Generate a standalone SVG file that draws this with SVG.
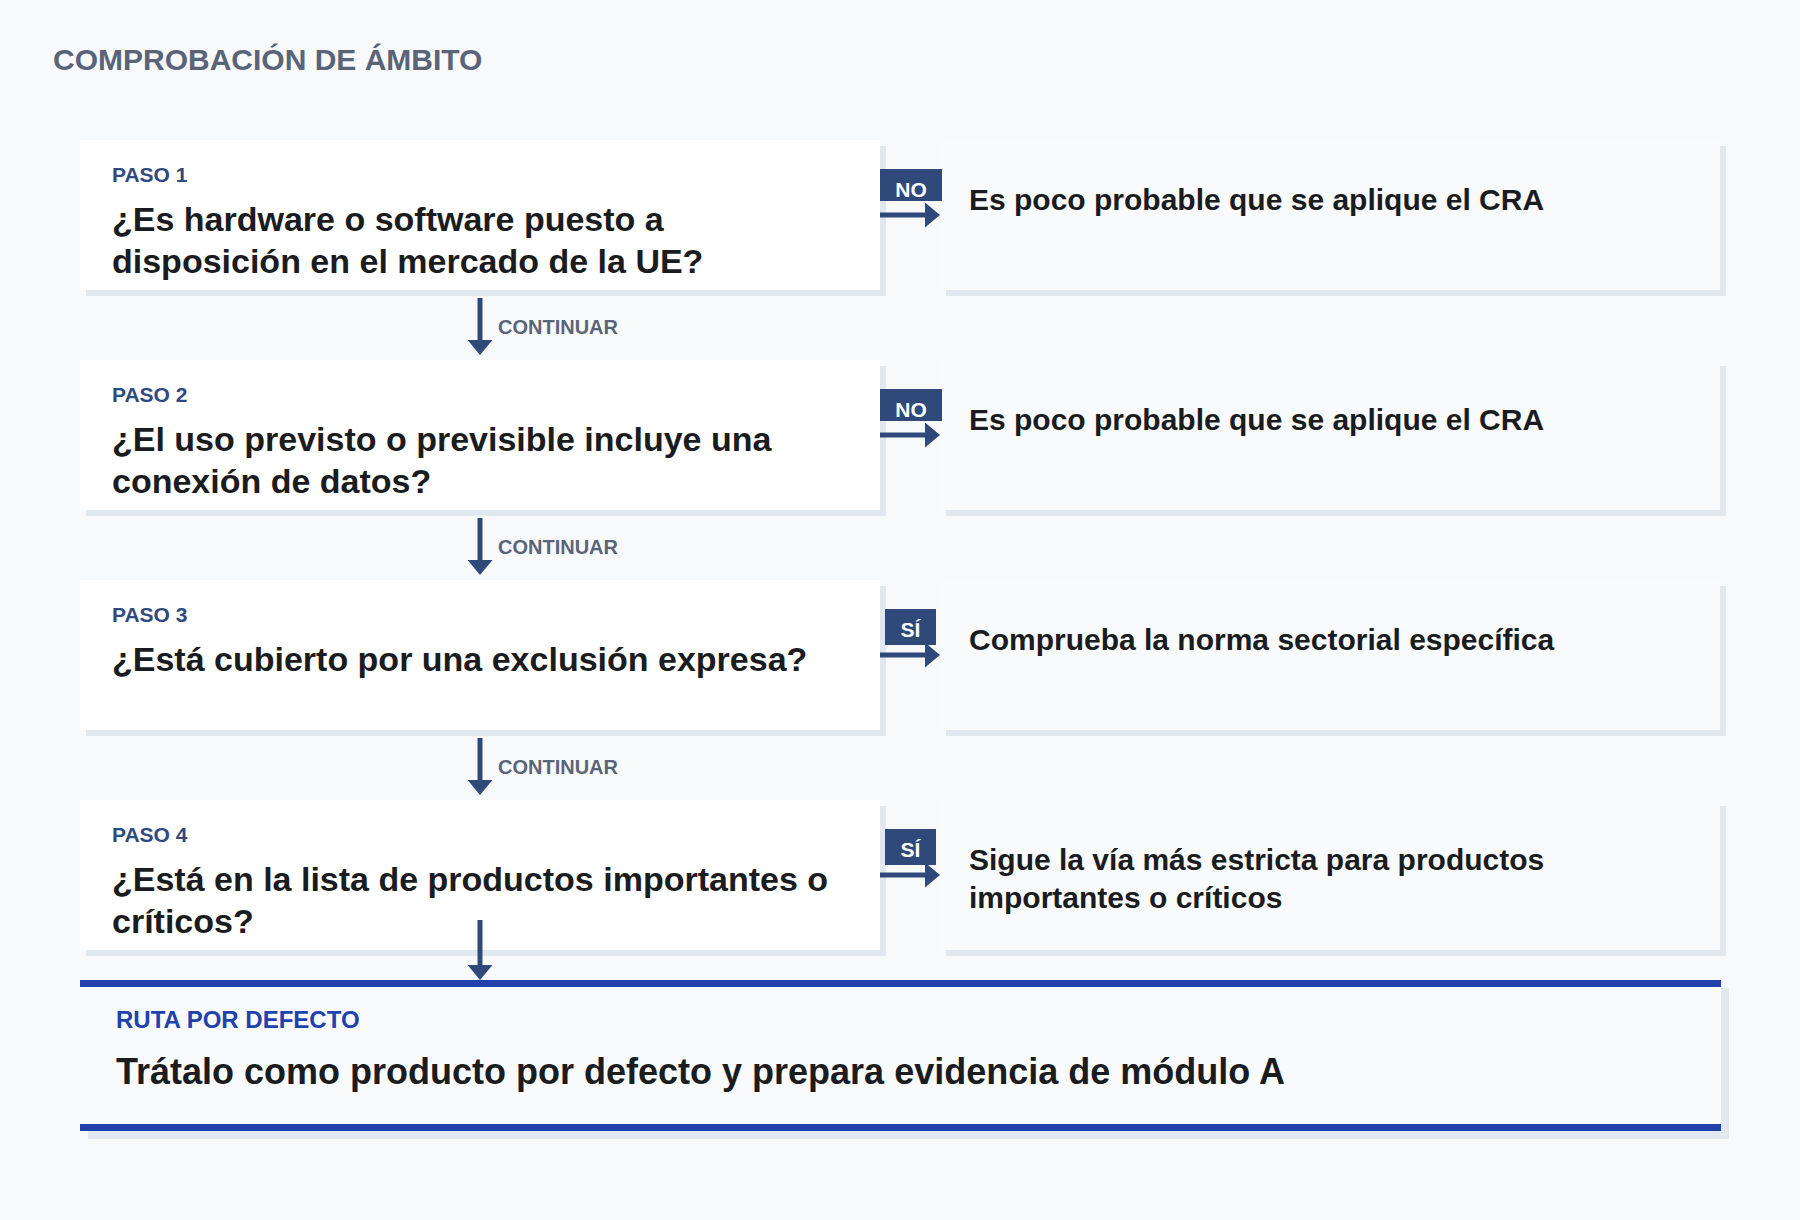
<svg xmlns="http://www.w3.org/2000/svg" width="1800" height="1220" viewBox="0 0 1800 1220">
  <style>
    text { font-family: "Liberation Sans", Arial, sans-serif; font-weight: bold; }
    .title { font-size: 30px; fill: #5a6478; }
    .paso { font-size: 21px; fill: #2e4a7e; }
    .q { font-size: 34px; fill: #1a1c20; }
    .out { font-size: 30px; fill: #1a1c20; }
    .cont { font-size: 20px; fill: #5a6478; }
    .badge { fill: #2f4a7a; }
    .btxt { font-size: 21px; fill: #ffffff; text-anchor: middle; }
    .card { fill: #ffffff; }
    .rcard { fill: #f8fafc; }
    .shadow { fill: #e2e8f0; }
    .conn { stroke: #2f4a7a; stroke-width: 5; fill: none; }
    .band { fill: #2141ad; }
    .rlabel { font-size: 24px; fill: #2141ad; }
    .rtext { font-size: 36px; fill: #1a1c20; }
  </style>
  <defs>
    <marker id="head" markerUnits="userSpaceOnUse" markerWidth="15" markerHeight="25" viewBox="0 0 15 25" refX="0" refY="12.5" orient="auto">
      <path d="M0,0 L15,12.5 L0,25 Z" fill="#2f4a7a"/>
    </marker>
  </defs>
  <rect x="0" y="0" width="1800" height="1220" fill="#f8f9fb"/>

  <text class="title" x="53" y="70">COMPROBACIÓN DE ÁMBITO</text>

  <g id="paso1">
    <rect class="shadow" x="86" y="146" width="800" height="150"/>
    <rect class="card" x="80" y="140" width="800" height="150"/>
    <text class="paso" x="112" y="182">PASO 1</text>
    <text class="q" x="112" y="231">¿Es hardware o software puesto a</text>
    <text class="q" x="112" y="273">disposición en el mercado de la UE?</text>
  </g>
  <g id="resultado1">
    <rect class="shadow" x="946" y="146" width="780" height="150"/>
    <rect class="rcard" x="940" y="140" width="780" height="150"/>
    <text class="out" x="969" y="210">Es poco probable que se aplique el CRA</text>
  </g>

  <g id="paso2">
    <rect class="shadow" x="86" y="366" width="800" height="150"/>
    <rect class="card" x="80" y="360" width="800" height="150"/>
    <text class="paso" x="112" y="402">PASO 2</text>
    <text class="q" x="112" y="451">¿El uso previsto o previsible incluye una</text>
    <text class="q" x="112" y="493">conexión de datos?</text>
  </g>
  <g id="resultado2">
    <rect class="shadow" x="946" y="366" width="780" height="150"/>
    <rect class="rcard" x="940" y="360" width="780" height="150"/>
    <text class="out" x="969" y="430">Es poco probable que se aplique el CRA</text>
  </g>

  <g id="paso3">
    <rect class="shadow" x="86" y="586" width="800" height="150"/>
    <rect class="card" x="80" y="580" width="800" height="150"/>
    <text class="paso" x="112" y="622">PASO 3</text>
    <text class="q" x="112" y="671">¿Está cubierto por una exclusión expresa?</text>
  </g>
  <g id="resultado3">
    <rect class="shadow" x="946" y="586" width="780" height="150"/>
    <rect class="rcard" x="940" y="580" width="780" height="150"/>
    <text class="out" x="969" y="650">Comprueba la norma sectorial específica</text>
  </g>

  <g id="paso4">
    <rect class="shadow" x="86" y="806" width="800" height="150"/>
    <rect class="card" x="80" y="800" width="800" height="150"/>
    <text class="paso" x="112" y="842">PASO 4</text>
    <text class="q" x="112" y="891">¿Está en la lista de productos importantes o</text>
    <text class="q" x="112" y="933">críticos?</text>
  </g>
  <g id="resultado4">
    <rect class="shadow" x="946" y="806" width="780" height="150"/>
    <rect class="rcard" x="940" y="800" width="780" height="150"/>
    <text class="out" x="969" y="870">Sigue la vía más estricta para productos</text>
    <text class="out" x="969" y="908">importantes o críticos</text>
  </g>

  <g id="ruta-defecto">
    <rect class="shadow" x="88" y="988" width="1641" height="151"/>
    <rect class="rcard" x="80" y="980" width="1641" height="151"/>
    <rect class="band" x="80" y="980" width="1641" height="7"/>
    <rect class="band" x="80" y="1124" width="1641" height="7"/>
    <text class="rlabel" x="116" y="1028">RUTA POR DEFECTO</text>
    <text class="rtext" x="116" y="1084">Trátalo como producto por defecto y prepara evidencia de módulo A</text>
  </g>

  <g id="conectores">
    <line class="conn" x1="480" y1="298" x2="480" y2="340" marker-end="url(#head)"/>
    <text class="cont" x="498" y="334">CONTINUAR</text>
    <line class="conn" x1="480" y1="518" x2="480" y2="560" marker-end="url(#head)"/>
    <text class="cont" x="498" y="554">CONTINUAR</text>
    <line class="conn" x1="480" y1="738" x2="480" y2="780" marker-end="url(#head)"/>
    <text class="cont" x="498" y="774">CONTINUAR</text>
    <line class="conn" x1="480" y1="920" x2="480" y2="965" marker-end="url(#head)"/>

    <rect class="badge" x="880" y="169" width="62" height="32"/>
    <text class="btxt" x="911" y="197">NO</text>
    <line class="conn" x1="880" y1="215" x2="925" y2="215" marker-end="url(#head)"/>

    <rect class="badge" x="880" y="389" width="62" height="32"/>
    <text class="btxt" x="911" y="417">NO</text>
    <line class="conn" x1="880" y1="435" x2="925" y2="435" marker-end="url(#head)"/>

    <rect class="badge" x="885" y="609" width="51" height="36"/>
    <text class="btxt" x="910.5" y="637">SÍ</text>
    <line class="conn" x1="880" y1="655" x2="925" y2="655" marker-end="url(#head)"/>

    <rect class="badge" x="885" y="829" width="51" height="36"/>
    <text class="btxt" x="910.5" y="857">SÍ</text>
    <line class="conn" x1="880" y1="875" x2="925" y2="875" marker-end="url(#head)"/>
  </g>
</svg>
